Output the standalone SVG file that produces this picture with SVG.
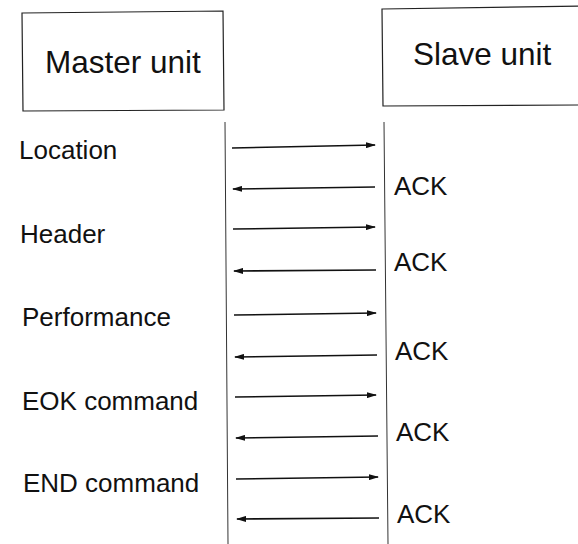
<svg xmlns="http://www.w3.org/2000/svg" width="578" height="544" viewBox="0 0 578 544">
<defs>
<marker id="ah" markerWidth="10" markerHeight="6" refX="9" refY="3" orient="auto" markerUnits="userSpaceOnUse">
<path d="M0,0 L10,3 L0,6 z" fill="#111"/>
</marker>
<style>
.box{fill:#fff;stroke:#222;stroke-width:1.2}
.t{font-family:"Liberation Sans",Arial,sans-serif;fill:#111}
.big{font-size:31.5px}
.lab{font-size:26px}
.life{stroke:#333;stroke-width:1}
.msg{stroke:#111;stroke-width:1.6;fill:none;marker-end:url(#ah)}
</style>
</defs>
<rect width="578" height="544" fill="#fff"/>
<g id="master">
<path class="box" d="M22,13 L223,11 L224,110 L23,111 z"/>
<text class="t big" x="45" y="73">Master unit</text>
</g>
<g id="slave">
<path class="box" d="M382,9 L580,6 L580,105 L383,106 z"/>
<text class="t big" x="413" y="65">Slave unit</text>
</g>
<g id="lifelines">
<line class="life" x1="225" y1="122" x2="228" y2="544"/>
<line class="life" x1="384" y1="122" x2="388" y2="544"/>
</g>
<g id="connectors">
<line class="msg" x1="232" y1="148" x2="375" y2="145"/>
<line class="msg" x1="375" y1="187" x2="233" y2="189"/>
<line class="msg" x1="233" y1="229" x2="375" y2="227"/>
<line class="msg" x1="376" y1="270" x2="234" y2="271"/>
<line class="msg" x1="234" y1="315" x2="376" y2="313"/>
<line class="msg" x1="377" y1="355" x2="235" y2="357"/>
<line class="msg" x1="235" y1="397" x2="376" y2="395"/>
<line class="msg" x1="378" y1="436" x2="236" y2="438"/>
<line class="msg" x1="236" y1="479" x2="378" y2="477"/>
<line class="msg" x1="379" y1="518" x2="237" y2="519"/>
</g>
<g id="labels">
<text class="t lab" x="19" y="159">Location</text>
<text class="t lab" x="20" y="243">Header</text>
<text class="t lab" x="22" y="326">Performance</text>
<text class="t lab" x="22" y="410">EOK command</text>
<text class="t lab" x="23" y="492">END command</text>
<text class="t lab" x="394" y="195">ACK</text>
<text class="t lab" x="394" y="271">ACK</text>
<text class="t lab" x="395" y="360">ACK</text>
<text class="t lab" x="396" y="441">ACK</text>
<text class="t lab" x="397" y="523">ACK</text>
</g>
</svg>
